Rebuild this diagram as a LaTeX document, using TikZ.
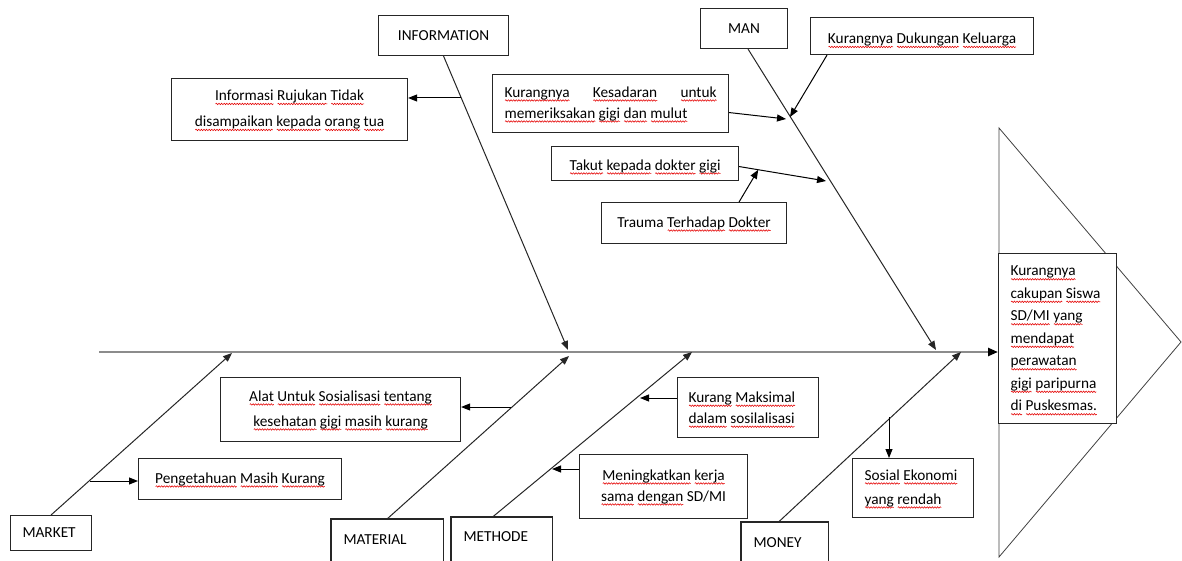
\documentclass[tikz,border=0pt]{standalone}
\usepackage{fontspec}
\setmainfont{Carlito}
\usetikzlibrary{arrows.meta,calc,decorations.pathmorphing}
\newsavebox\sqbox
\newcommand\sq[1]{\leavevmode\sbox\sqbox{#1}\rlap{\tikz[overlay,x=1pt,y=1pt]\draw[red!90!black,line width=0.55pt,decorate,decoration={snake,segment length=2.6pt,amplitude=0.75pt}] (0.5,-3.4) -- (\the\wd\sqbox,-3.4);}\usebox\sqbox}
\newcommand\natsp{\spaceskip=0pt\xspaceskip=0pt\relax}
\begin{document}
\begin{tikzpicture}[x=1pt,y=-1pt,
  box/.style={draw=black!85, line width=1.1pt, fill=white, inner sep=0pt, anchor=north west,
    font=\fontsize{15.3}{22}\selectfont},
  cutbox/.style={box, draw=none, fill=none, align=flush left, inner xsep=12pt},
  boxline/.style={draw=black!85, line width=1.1pt},
  bone/.style={draw=black!85, line width=1pt, -{Triangle[length=9pt,width=7pt]}},
  arr/.style={draw=black, line width=1pt, -{Triangle[length=9pt,width=7pt]}},
  spine/.style={draw=black!45, line width=2.4pt, -{Triangle[length=10pt,width=8pt,color=black]}},
  headline/.style={draw=black!75, line width=0.8pt}
]
\useasboundingbox (0,0) rectangle (1182,561);
\clip (0,0) rectangle (1182,561);

% fish head
\coordinate (ht) at (999,128);
\coordinate (hr) at (1181,342);
\coordinate (hb) at (999,557);
\draw[headline] (ht) -- (hr) -- (hb) -- cycle;
\node[box, minimum width=118, minimum height=170, text width=94, inner xsep=12pt, align=flush left, font=\fontsize{15.3}{22.5}\selectfont] (headbox) at (998,253)
  {\natsp\sq{Kurangnya}\\\sq{cakupan} \sq{Siswa}\\\sq{SD/MI} \sq{yang}\\\sq{mendapat}\\\sq{perawatan}\\\sq{gigi} \sq{paripurna}\\\sq{di} \sq{Puskesmas.}};

% top boxes
\node[box, minimum width=130, minimum height=40] (information) at (378,15) {INFORMATION};
\node[box, minimum width=236, minimum height=62, align=center, font=\fontsize{15.3}{26}\selectfont] (rujukan) at (171,78)
  {\sq{Informasi} \sq{Rujukan} \sq{Tidak}\\\sq{disampaikan} \sq{kepada} \sq{orang} \sq{tua}};
\node[box, minimum width=87, minimum height=40] (man) at (700,8) {MAN};
\node[box, minimum width=223, minimum height=37, text height=19pt, text depth=4pt] (dukungan) at (810,17)
  {\sq{Kurangnya} \sq{Dukungan} \sq{Keluarga}};
\node[box, minimum width=236, minimum height=58, align=left, font=\fontsize{15.3}{21}\selectfont] (kesadaran) at (492,74)
  {\hbox to 212pt{\sq{Kurangnya}\hfill\sq{Kesadaran}\hfill\sq{untuk}}\\\sq{memeriksakan} \sq{gigi} \sq{dan} \sq{mulut}};
\node[box, minimum width=187, minimum height=34, text height=17pt, text depth=4pt] (takut) at (551,146)
  {\sq{Takut} \sq{kepada} \sq{dokter} \sq{gigi}};
\node[box, minimum width=185, minimum height=41] (trauma) at (601,202)
  {Trauma \sq{Terhadap} \sq{Dokter}};

% bottom boxes
\node[box, minimum width=240, minimum height=64, align=center, font=\fontsize{15.3}{25}\selectfont] (alat) at (220,377)
  {\sq{Alat} \sq{Untuk} \sq{Sosialisasi} \sq{tentang}\\\sq{kesehatan} \sq{gigi} \sq{masih} \sq{kurang}};
\node[box, minimum width=203, minimum height=41] (pengetahuan) at (138,458)
  {\sq{Pengetahuan} \sq{Masih} \sq{Kurang}};
\node[box, minimum width=141, minimum height=60, text width=119, inner xsep=11pt, align=flush left, font=\fontsize{15.3}{21}\selectfont] (kurang) at (677,377)
  {\natsp\sq{Kurang} \sq{Maksimal}\\\sq{dalam} \sq{sosilalisasi}};
\node[box, minimum width=168, minimum height=64, align=center, font=\fontsize{15.3}{21}\selectfont] (meningkatkan) at (579,454)
  {\sq{Meningkatkan} \sq{kerja}\\\sq{sama} \sq{dengan} SD/MI};
\node[box, minimum width=121, minimum height=59, text width=97, inner xsep=12pt, align=flush left, font=\fontsize{15.3}{24}\selectfont] (sosial) at (852,458)
  {\natsp\sq{Sosial} \sq{Ekonomi}\\\sq{yang} \sq{rendah}};

% category boxes at bottom
\node[box, minimum width=81, minimum height=35, text width=57, inner xsep=12pt, align=flush left] (market) at (10,515) {MARKET};
\node[cutbox, minimum width=111, minimum height=40, text width=87] (material) at (331,519) {MATERIAL};
\node[cutbox, minimum width=100, minimum height=38, text width=76] (methode) at (451,517) {METHODE};
\node[cutbox, minimum width=86, minimum height=40, text width=62] (money) at (741,522) {MONEY};
\draw[boxline] ($(material.north west)+(0,60)$) -- (material.north west) -- (material.north east) -- ++(0,60);
\draw[boxline] ($(methode.north west)+(0,60)$) -- (methode.north west) -- (methode.north east) -- ++(0,60);
\draw[boxline] ($(money.north west)+(0,60)$) -- (money.north west) -- (money.north east) -- ++(0,60);

% spine
\coordinate (tail) at (99,352);
\draw[spine] (tail) -- (tail -| headbox.west);

% bones
\coordinate (itip) at (568,350);
\coordinate (mtip) at (936,350);
\coordinate (mktip) at (232,353);
\coordinate (mattip) at (569,356);
\coordinate (mettip) at (692,352);
\coordinate (montip) at (961,352);
\draw[bone] (information.south) -- (itip);
\draw[bone] ([xshift=4pt]man.south) -- (mtip);
\draw[bone] (market.north) -- (mktip);
\draw[bone] (material.north) -- (mattip);
\draw[bone] ([xshift=-9pt]methode.north) -- (mettip);
\draw[bone] ([xshift=-6pt]money.north) -- (montip);

% branches
\coordinate (ib) at (461,98);
\draw[arr] (ib) -- (ib -| rujukan.east);
\coordinate (dk) at (790,117);
\draw[arr] ([xshift=17pt]dukungan.south west) -- (dk);
\coordinate (ks) at (786,119);
\draw[arr] ([yshift=-9pt]kesadaran.east) -- (ks);
\coordinate (tk) at (826,181);
\draw[arr] ([yshift=-3pt]takut.east) -- (tk);
\coordinate (tr) at ($([yshift=-3pt]takut.east)!0.22!(tk)$);
\draw[arr] ([xshift=45pt]trauma.north) -- (tr);
\coordinate (ab) at (511,407);
\draw[arr] (ab) -- (ab -| alat.east);
\coordinate (pb) at (90,481);
\draw[arr] (pb) -- (pb -| pengetahuan.west);
\coordinate (kb) at (640,398);
\draw[arr] (kb -| kurang.west) -- (kb);
\coordinate (mb) at (552,469);
\draw[arr] (mb -| meningkatkan.west) -- (mb);
\coordinate (sb) at (889,417);
\draw[arr] (sb) -- (sb |- sosial.north);
\end{tikzpicture}
\end{document}
